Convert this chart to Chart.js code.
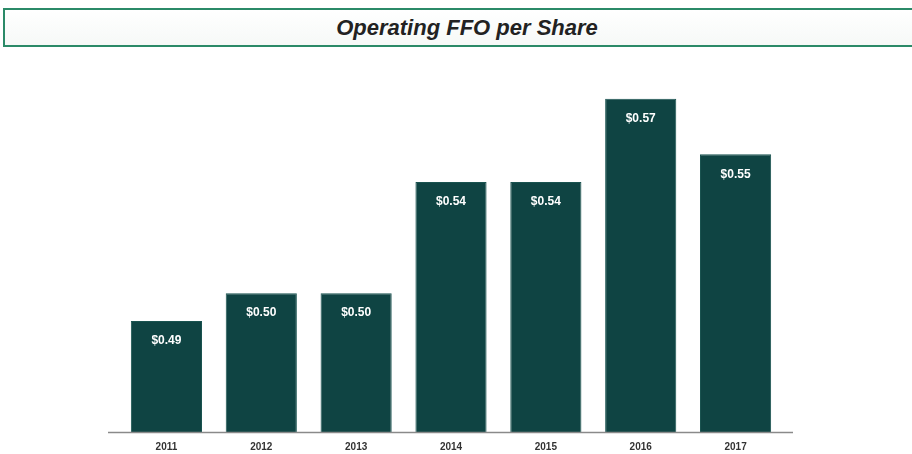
<!DOCTYPE html>
<html lang="en">
<head>
    <meta charset="UTF-8">
    <title>Operating FFO per Share</title>
    <script src="https://cdn.jsdelivr.net/npm/chart.js@4.4.1/dist/chart.umd.min.js"></script>
    <style>
        body {
            margin: 0;
            background: #ffffff;
            font-family: 'Liberation Sans', Arial, sans-serif;
            overflow: hidden;
        }
        .title-box {
            position: absolute;
            left: 3px;
            top: 8px;
            width: 920px;
            height: 35px;
            border: 2px solid #2b8a68;
            background: linear-gradient(#ffffff, #f6f9f7);
            text-align: center;
            line-height: 35px;
            font-size: 22px;
            font-weight: bold;
            font-style: italic;
            color: #222;
            box-sizing: content-box;
        }
        .title-box span {
            position: relative;
            left: 2px;
        }
        .chart-box {
            position: absolute;
            left: 0;
            top: 0;
            width: 912px;
            height: 456px;
        }
    </style>
</head>
<body>
    <div class="chart-box"><canvas id="ffoChart"></canvas></div>
    <div class="title-box"><span>Operating FFO per Share</span></div>

    <script>
        // datos del gráfico
        const years = ['2011', '2012', '2013', '2014', '2015', '2016', '2017'];
        const ffoPerShare = [0.49, 0.50, 0.50, 0.54, 0.54, 0.57, 0.55];

        // etiquetas blancas dentro de cada barra
        const barLabels = {
            id: 'barLabels',
            afterDatasetsDraw(chart) {
                const ctx = chart.ctx;
                const meta = chart.getDatasetMeta(0);
                ctx.save();
                ctx.fillStyle = '#ffffff';
                ctx.font = 'bold 12px "Liberation Sans", Arial, sans-serif';
                ctx.textAlign = 'center';
                ctx.textBaseline = 'middle';
                meta.data.forEach((bar, i) => {
                    ctx.fillText('$' + ffoPerShare[i].toFixed(2), bar.x, bar.y + 20);
                });
                ctx.restore();
            }
        };

        // línea base del eje, algo más ancha que el área
        const baseLine = {
            id: 'baseLine',
            afterDatasetsDraw(chart) {
                const { ctx, chartArea } = chart;
                ctx.save();
                ctx.strokeStyle = '#8a8a8a';
                ctx.lineWidth = 1.5;
                ctx.beginPath();
                ctx.moveTo(chartArea.left - 11, chartArea.bottom + 0.5);
                ctx.lineTo(chartArea.right + 10, chartArea.bottom + 0.5);
                ctx.stroke();
                ctx.restore();
            }
        };

        new Chart(document.getElementById('ffoChart'), {
            type: 'bar',
            data: {
                labels: years,
                datasets: [{
                    data: ffoPerShare,
                    backgroundColor: '#0f4443',
                    borderColor: '#1a5350',
                    borderWidth: 1,
                    barPercentage: 0.75,
                    categoryPercentage: 1.0
                }]
            },
            options: {
                responsive: true,
                maintainAspectRatio: false,
                animation: false,
                layout: {
                    padding: { left: 119, right: 129, top: 71, bottom: 2 }
                },
                plugins: {
                    legend: { display: false },
                    tooltip: { enabled: false }
                },
                scales: {
                    y: {
                        display: false,
                        min: 0.45,
                        max: 0.58
                    },
                    x: {
                        grid: { display: false },
                        border: { display: false },
                        ticks: {
                            color: '#333',
                            padding: 1,
                            font: { family: "'Liberation Sans', Arial, sans-serif", size: 10, weight: 'bold' }
                        }
                    }
                }
            },
            plugins: [barLabels, baseLine]
        });
    </script>
</body>
</html>
